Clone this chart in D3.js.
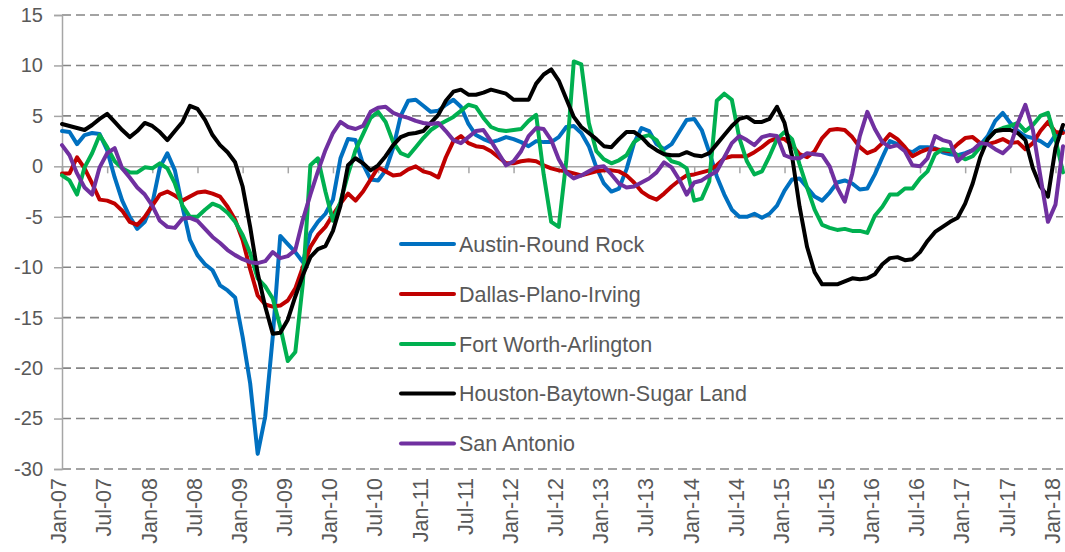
<!DOCTYPE html>
<html>
<head>
<meta charset="utf-8">
<script src="https://cdn.jsdelivr.net/npm/d3@7"></script>
<style>
  html, body { margin: 0; padding: 0; background: #ffffff; }
  svg { display: block; }
</style>
</head>
<body>
<svg id="chart" width="1065" height="552"></svg>
<script>
// ---- Data (monthly, Jan-07 .. Feb-18) ----
const tickLabels = ["Jan-07","Jul-07","Jan-08","Jul-08","Jan-09","Jul-09","Jan-10","Jul-10","Jan-11","Jul-11","Jan-12","Jul-12","Jan-13","Jul-13","Jan-14","Jul-14","Jan-15","Jul-15","Jan-16","Jul-16","Jan-17","Jul-17","Jan-18"];
const yTicks = [15, 10, 5, 0, -5, -10, -15, -20, -25, -30];
const seriesNames = ["Austin-Round Rock", "Dallas-Plano-Irving", "Fort Worth-Arlington", "Houston-Baytown-Sugar Land", "San Antonio"];
const seriesColors = ["#0070C0", "#C00000", "#00B050", "#000000", "#7030A0"];

const austin = [3.5,3.4,2.2,3.1,3.3,3.2,1.6,-1.1,-3.4,-5.0,-6.2,-5.5,-3.7,-0.1,1.3,-0.4,-4.0,-7.3,-8.8,-9.7,
-10.3,-11.8,-12.3,-13.0,-16.9,-21.5,-28.5,-24.8,-16.9,-6.9,-7.7,-8.5,-9.5,-6.6,-5.5,-4.7,-3.3,0.8,2.7,2.6,
0.2,-1.3,-1.4,-0.4,1.8,5.0,6.5,6.6,6.0,5.4,5.5,6.1,6.6,5.9,4.2,3.1,2.7,2.4,2.6,2.9,
2.7,2.4,2.0,2.5,2.4,2.4,2.9,3.9,4.0,3.3,2.0,-0.1,-1.7,-2.5,-2.2,-0.3,2.3,3.8,3.5,2.2,
1.7,2.2,3.4,4.6,4.7,3.6,1.4,-1.0,-2.8,-4.3,-5.0,-5.0,-4.7,-5.1,-4.7,-3.9,-2.4,-1.3,-1.2,-2.1,
-3.0,-3.4,-2.6,-1.6,-1.4,-1.7,-2.3,-2.2,-0.8,0.9,2.5,2.2,1.6,1.4,1.9,1.9,1.8,1.4,1.2,1.1,
1.3,1.6,2.1,3.0,4.5,5.3,4.3,3.5,3.0,2.8,2.5,2.0,3.1,3.5];

const dallas = [-0.7,-0.7,0.9,-0.2,-1.7,-3.3,-3.4,-3.7,-4.4,-5.5,-5.8,-5.0,-3.9,-2.8,-2.5,-2.9,-3.4,-3.0,-2.6,-2.5,
-2.7,-3.0,-4.0,-5.3,-7.3,-10.2,-12.8,-13.7,-13.9,-13.8,-13.3,-12.1,-10.0,-8.0,-6.8,-6.0,-4.8,-3.7,-2.7,-3.4,
-2.5,-1.3,-0.1,-0.5,-0.9,-0.8,-0.3,0.0,-0.5,-0.7,-1.1,0.9,2.5,3.0,2.3,2.0,1.9,1.5,0.9,0.3,
0.3,0.5,0.6,0.5,0.1,-0.2,-0.4,-0.5,-0.7,-0.9,-0.7,-0.5,-0.4,-0.4,-0.5,-0.9,-1.6,-2.5,-3.0,-3.3,
-2.7,-2.0,-1.4,-0.9,-0.8,-0.6,-0.4,0.1,0.8,1.0,1.0,1.0,1.4,1.9,2.5,2.8,2.7,2.1,1.2,0.9,
1.5,2.8,3.6,3.7,3.6,2.9,1.9,1.3,1.6,2.3,3.2,2.7,1.9,1.0,1.4,1.7,1.7,1.6,1.5,2.2,
2.8,2.9,2.3,2.2,2.4,2.7,2.3,2.4,1.7,2.3,3.5,4.4,3.4,3.3];

const fortWorth = [-0.9,-1.4,-2.8,-0.1,1.3,3.1,1.9,0.5,-0.2,-0.6,-0.6,-0.1,-0.2,0.3,-0.2,-1.7,-3.9,-5.0,-5.0,-4.3,
-3.7,-4.0,-4.6,-5.5,-6.8,-8.6,-11.1,-11.9,-13.1,-15.9,-19.3,-18.4,-11.6,0.1,0.8,-2.5,-5.4,-3.5,-0.8,1.6,
3.2,4.8,5.4,4.4,2.4,1.3,1.0,1.9,2.8,3.6,4.1,4.5,4.9,5.5,6.1,5.9,4.8,3.9,3.6,3.5,
3.6,3.7,4.5,5.1,-0.8,-5.5,-6.0,0.5,10.4,10.1,4.3,1.5,0.7,0.3,0.6,1.1,2.4,2.9,3.1,2.6,
1.3,0.5,0.3,-0.2,-3.4,-3.2,-1.5,6.5,7.2,6.6,2.8,0.5,-0.8,-0.5,1.0,2.7,3.4,2.7,0.2,-2.1,
-4.3,-5.8,-6.1,-6.3,-6.2,-6.4,-6.4,-6.6,-4.9,-4.0,-2.8,-2.8,-2.2,-2.2,-1.2,-0.5,1.2,1.7,1.6,1.1,
0.7,1.0,1.9,2.7,3.5,3.8,4.0,4.3,3.5,4.1,5.0,5.3,2.7,-0.6];

const houston = [4.2,4.0,3.8,3.6,4.1,4.7,5.2,4.4,3.6,2.9,3.5,4.3,4.0,3.4,2.6,3.5,4.4,6.0,5.7,4.6,
3.1,2.1,1.4,0.4,-2.0,-6.0,-10.6,-13.9,-16.6,-16.5,-15.2,-12.9,-10.8,-9.0,-8.2,-7.9,-6.4,-3.9,0.1,0.8,
0.3,-0.4,0.1,1.0,2.1,2.9,3.2,3.3,3.5,4.3,5.1,6.5,7.4,7.6,7.1,7.1,7.3,7.6,7.4,7.2,
6.6,6.6,6.6,8.2,9.1,9.6,8.5,6.7,4.9,3.9,3.3,2.7,2.0,1.9,2.7,3.4,3.4,2.9,2.1,1.6,
1.2,1.1,1.1,1.4,1.1,1.0,1.3,2.2,3.1,4.0,4.7,4.9,4.4,4.4,4.7,5.9,4.3,1.0,-4.0,-8.0,
-10.5,-11.7,-11.7,-11.7,-11.4,-11.1,-11.2,-11.1,-10.7,-9.7,-9.1,-9.0,-9.3,-9.2,-8.5,-7.4,-6.5,-6.0,-5.5,-5.1,
-3.7,-1.7,0.9,2.7,3.5,3.6,3.6,3.3,2.6,-0.2,-2.0,-3.0,1.8,4.1];

const sanAntonio = [2.1,1.1,-0.7,-2.1,-2.8,-0.1,1.3,1.8,-0.2,-1.1,-2.1,-2.8,-3.9,-5.4,-6.0,-6.1,-5.2,-5.1,-5.4,-6.2,
-7.0,-7.6,-8.3,-8.8,-9.2,-9.5,-9.6,-9.4,-8.5,-9.1,-8.9,-8.3,-5.3,-2.8,-0.5,1.6,3.3,4.4,3.9,3.7,
4.0,5.4,5.8,5.9,5.3,5.0,4.8,4.5,4.3,4.2,4.3,3.5,2.6,2.3,2.9,3.5,3.6,2.5,1.3,0.1,
0.5,1.5,3.0,3.8,3.7,2.6,0.7,-0.6,-1.2,-0.9,-0.5,-0.1,0.0,-0.8,-1.7,-2.1,-2.0,-1.6,-1.2,-0.6,
0.4,-0.1,-1.3,-2.8,-1.6,-1.4,-0.9,-0.5,0.9,2.3,3.0,2.6,2.1,2.9,3.1,3.0,1.1,0.8,0.8,1.3,
1.2,1.1,0.0,-2.1,-3.5,-0.7,3.0,5.4,3.7,2.4,1.9,2.1,1.5,0.1,0.0,0.8,3.0,2.6,2.4,0.5,
1.2,1.6,2.3,2.2,1.7,1.3,2.0,4.3,6.1,3.6,-1.0,-5.5,-3.8,2.0];

const seriesValues = [austin, dallas, fortWorth, houston, sanAntonio];

(function () {
  // ---- Layout ----
  const mLeft = 62, mRight = 1063, mTop = 15, mBottom = 469;
  const nPts = austin.length;
  const svg = d3.select("#chart");
  const textColor = "#595959";
  const axisColor = "#a6a6a6";
  const gridColor = "#858585";
  const font = "'Liberation Sans', Arial, sans-serif";

  const x = d3.scaleLinear().domain([0, nPts - 1]).range([mLeft, mRight]);
  const y = d3.scaleLinear().domain([-30, 15]).range([mBottom, mTop]);

  // gridlines (dashed), excluding zero
  svg.append("g").selectAll("line")
    .data(yTicks.filter(v => v !== 0))
    .join("line")
    .attr("x1", mLeft).attr("x2", mRight)
    .attr("y1", d => y(d)).attr("y2", d => y(d))
    .attr("stroke", gridColor).attr("stroke-width", 1.6)
    .attr("stroke-dasharray", "9,5");

  // y axis
  const yAxis = d3.axisLeft(y).tickValues(yTicks).tickSize(8).tickPadding(11).tickFormat(d3.format("d"));
  const gy = svg.append("g").attr("transform", `translate(${mLeft},0)`).call(yAxis);
  gy.select(".domain").attr("stroke", axisColor).attr("stroke-width", 1.5);
  gy.selectAll(".tick line").attr("stroke", axisColor).attr("stroke-width", 1.5);
  gy.selectAll(".tick text").attr("fill", textColor).style("font-family", font).style("font-size", "20px")
    .text(d => d < 0 ? "-" + Math.abs(d) : d);

  // x axis at zero with tick marks every 6 months
  const tickIdx = tickLabels.map((_, i) => i * 6);
  const xAxis0 = d3.axisBottom(x).tickValues(tickIdx).tickSize(7).tickFormat("");
  const gx0 = svg.append("g").attr("transform", `translate(0,${y(0)})`).call(xAxis0);
  gx0.select(".domain").attr("stroke", axisColor).attr("stroke-width", 1.5);
  gx0.selectAll(".tick line").attr("stroke", axisColor).attr("stroke-width", 1.5);

  // x labels at bottom (low position)
  svg.append("g").selectAll("text")
    .data(tickIdx)
    .join("text")
    .attr("transform", d => `translate(${x(d)},478) rotate(-90)`)
    .attr("dy", "0.2em")
    .attr("text-anchor", "end")
    .attr("fill", textColor)
    .style("font-family", font).style("font-size", "21.5px")
    .text((d, i) => tickLabels[i]);

  // series lines
  const line = d3.line().x((d, i) => x(i)).y(d => y(d));
  svg.append("g").selectAll("path")
    .data(seriesValues)
    .join("path")
    .attr("d", d => line(d))
    .attr("fill", "none")
    .attr("stroke", (d, i) => seriesColors[i])
    .attr("stroke-width", 4)
    .attr("stroke-linejoin", "round")
    .attr("stroke-linecap", "round");

  // legend
  const lg = svg.append("g");
  const legY = [244, 294, 344, 393.5, 443.5];
  seriesNames.forEach((name, i) => {
    lg.append("line").attr("x1", 401).attr("x2", 454).attr("y1", legY[i]).attr("y2", legY[i])
      .attr("stroke", seriesColors[i]).attr("stroke-width", 4).attr("stroke-linecap", "round");
    lg.append("text").attr("x", 459).attr("y", legY[i]).attr("dy", "0.36em")
      .attr("fill", textColor).style("font-family", font).style("font-size", "21.5px").text(name);
  });
})();
</script>
</body>
</html>
